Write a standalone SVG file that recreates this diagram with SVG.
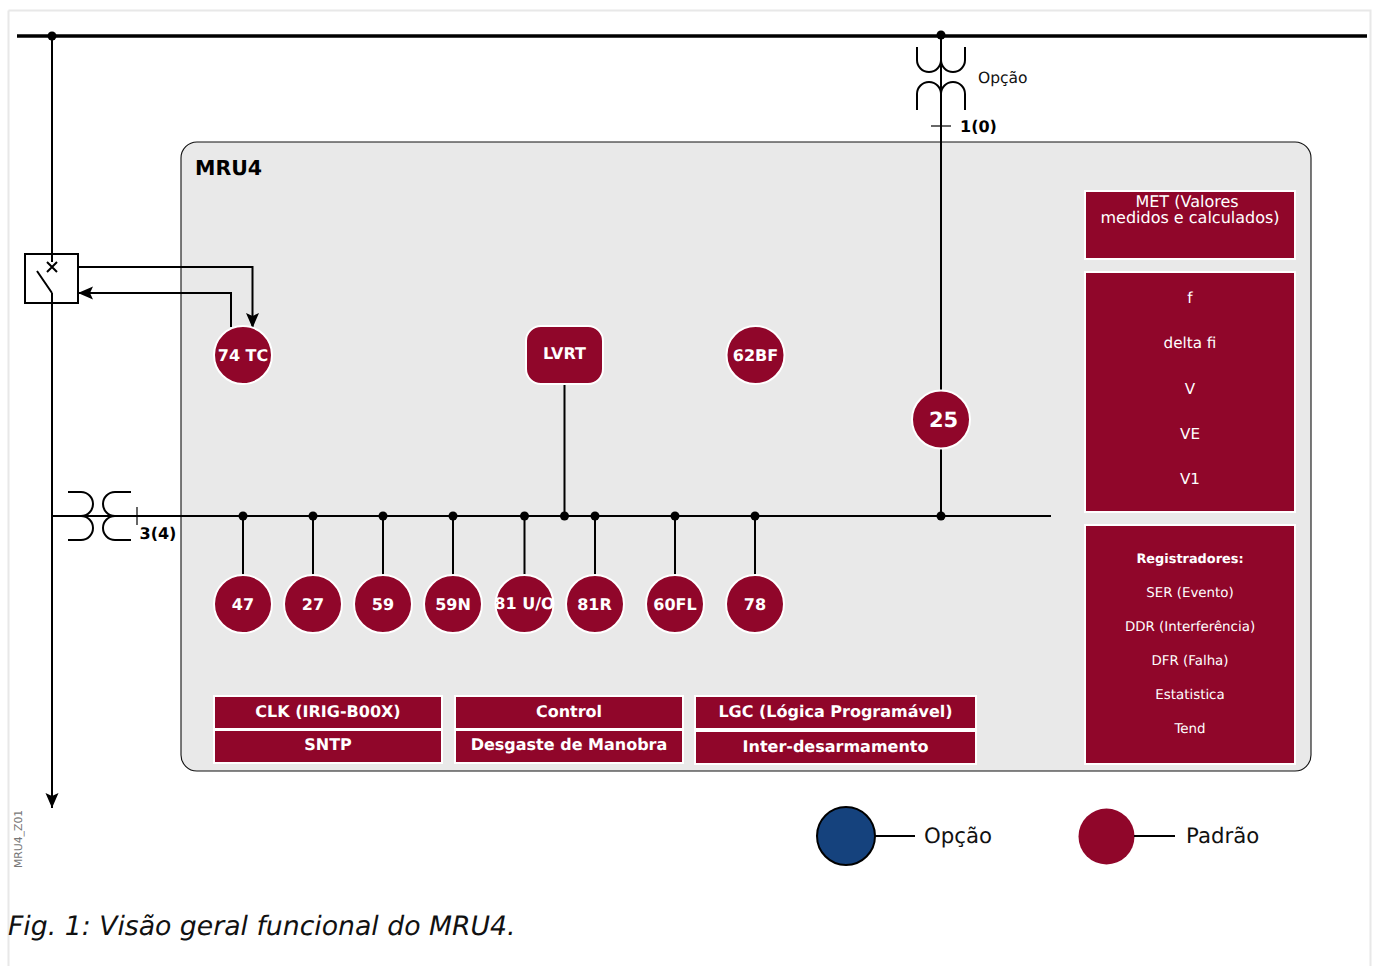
<svg xmlns="http://www.w3.org/2000/svg" width="1375" height="966" viewBox="0 0 1375 966">
<style>
text{font-family:"DejaVu Sans",sans-serif;text-rendering:geometricPrecision}
.w{fill:#fff;text-anchor:middle}
.b{font-weight:bold;font-size:12.900px}
.r{fill:#90062a;stroke:#fff;stroke-width:2}
.c{fill:#90062a;stroke:#fff;stroke-width:2}
.l{fill:none;stroke:#000;stroke-width:2}
.t{font-size:16px;font-weight:bold}
.k{font-size:16px;font-weight:bold}
.s{font-size:15.200px}
.m{font-size:13.400px}
</style>
<defs>
<marker id="a" markerUnits="userSpaceOnUse" markerWidth="16" markerHeight="14" refX="15" refY="6.500" orient="auto"><path d="M0 0L15 6.500L0 13L3 6.500Z" fill="#000"/></marker>
</defs>
<rect width="1375" height="966" fill="#fff"/>
<path d="M8.500 10.500H1370.500V966M8.500 10.500V966" fill="none" stroke="#e8e8e8" stroke-width="2"/>
<rect id="mru4" x="181" y="142" width="1130" height="629" rx="16" fill="#e9e9e9" stroke="#111" stroke-width="1.100"/>
<text x="195" y="174.500" font-size="20.500" font-weight="bold">MRU4</text>
<g id="connectors">
<path d="M17 36H1367" fill="none" stroke="#000" stroke-width="3.500"/>
<path class="l" d="M52 36V254M52 303V808" marker-end="url(#a)"/>
<path class="l" d="M941 36V390M941 448V516"/>
<path class="l" d="M52 516H1051"/>
<path class="l" d="M243 516V576M313 516V576M383 516V576M453 516V576M524.500 516V576M595 516V576M675 516V576M755 516V576M564.500 384V516"/>
<path class="l" d="M78 267H252.500V328" marker-end="url(#a)"/>
<path class="l" d="M231 327V293H78" marker-end="url(#a)"/>
<g fill="#000">
<circle cx="52" cy="36" r="4.500"/><circle cx="941" cy="35" r="4.500"/>
<circle cx="243" cy="516" r="4.500"/><circle cx="313" cy="516" r="4.500"/><circle cx="383" cy="516" r="4.500"/><circle cx="453" cy="516" r="4.500"/><circle cx="524.500" cy="516" r="4.500"/><circle cx="564.500" cy="516" r="4.500"/><circle cx="595" cy="516" r="4.500"/><circle cx="675" cy="516" r="4.500"/><circle cx="755" cy="516" r="4.500"/><circle cx="941" cy="516" r="4.500"/>
</g>
</g>
<g id="breaker">
<rect x="25" y="254" width="53" height="49" fill="#fff" stroke="#000" stroke-width="2"/>
<path class="l" d="M52 208V262M52 293V303M37 271L52 293M47 262L57 272M57 262L47 272"/>
</g>
<g id="vt-top">
<path class="l" d="M917 47V60A12 12 0 0 0 941 60A12 12 0 0 0 965 60V47"/>
<path class="l" d="M917 110V94A12 12 0 0 1 941 94A12 12 0 0 1 965 94V110"/>
<path fill="none" stroke="#000" stroke-width="1.200" d="M931 126H951"/>
<text x="978" y="83" font-size="15.500" fill="#111">Opção</text>
<text x="960" y="132" font-size="16" font-weight="bold" fill="#000">1(0)</text>
</g>
<g id="vt-left">
<path class="l" d="M68 492H81A12 12 0 0 1 81 516A12 12 0 0 1 81 540H68"/>
<path class="l" d="M131 492H115A12 12 0 0 0 115 516A12 12 0 0 0 115 540H131"/>
<path fill="none" stroke="#000" stroke-width="1.200" d="M137 507V525"/>
<text x="139.500" y="539" font-size="16" font-weight="bold">3(4)</text>
</g>
<g id="n74"><circle class="c" cx="243" cy="355" r="29"/><text class="w t" x="243" y="361">74 TC</text></g>
<g id="lvrt"><rect class="r" x="526" y="326" width="77" height="58" rx="15"/><text class="w k" x="564.500" y="359">LVRT</text></g>
<g id="n62"><circle class="c" cx="755.500" cy="355" r="29"/><text class="w t" x="755.500" y="361">62BF</text></g>
<g id="n25"><circle class="c" cx="941" cy="419.500" r="29"/><text class="w" x="943.500" y="427" font-size="21" font-weight="bold">25</text></g>
<g id="n47"><circle class="c" cx="243" cy="604" r="29"/><text class="w t" x="243" y="610">47</text></g>
<g id="n27"><circle class="c" cx="313" cy="604" r="29"/><text class="w t" x="313" y="610">27</text></g>
<g id="n59"><circle class="c" cx="383" cy="604" r="29"/><text class="w t" x="383" y="610">59</text></g>
<g id="n59N"><circle class="c" cx="453" cy="604" r="29"/><text class="w t" x="453" y="610">59N</text></g>
<g id="n81"><circle class="c" cx="524.500" cy="604" r="29"/><text class="w t" x="524.500" y="609">81 U/O</text></g>
<g id="n81R"><circle class="c" cx="595" cy="604" r="29"/><text class="w t" x="594.500" y="610">81R</text></g>
<g id="n60"><circle class="c" cx="675" cy="604" r="29"/><text class="w t" x="675" y="610">60FL</text></g>
<g id="n78"><circle class="c" cx="755" cy="604" r="29"/><text class="w t" x="755" y="610">78</text></g>
<g id="clk"><rect class="r" x="214" y="696" width="228" height="33"/><text class="w k" x="328" y="717">CLK (IRIG-B00X)</text></g>
<g id="sntp"><rect class="r" x="214" y="730" width="228" height="33"/><text class="w k" x="328" y="750">SNTP</text></g>
<g id="control"><rect class="r" x="455" y="696" width="228" height="33"/><text class="w k" x="569" y="717">Control</text></g>
<g id="desgaste"><rect class="r" x="455" y="730" width="228" height="33"/><text class="w k" x="569" y="750">Desgaste de Manobra</text></g>
<g id="lgc"><rect class="r" x="695" y="696" width="281" height="33"/><text class="w k" x="835.500" y="717">LGC (Lógica Programável)</text></g>
<g id="inter"><rect class="r" x="695" y="731" width="281" height="33"/><text class="w k" x="835.500" y="752">Inter-desarmamento</text></g>
<g id="met"><rect class="r" x="1085" y="191" width="210" height="68"/><text class="w" font-size="16" x="1187" y="207">MET (Valores</text><text class="w" font-size="16" x="1190" y="223">medidos e calculados)</text></g>
<g id="meas"><rect class="r" x="1085" y="272" width="210" height="240"/>
<text class="w s" x="1190" y="302.500">f</text><text class="w s" x="1190" y="348">delta fi</text><text class="w s" x="1190" y="394">V</text><text class="w s" x="1190" y="439">VE</text><text class="w s" x="1190" y="484">V1</text></g>
<g id="reg"><rect class="r" x="1085" y="525" width="210" height="239"/>
<text class="w b" x="1190" y="563">Registradores:</text><text class="w m" x="1190" y="597">SER (Evento)</text><text class="w m" x="1190" y="631">DDR (Interferência)</text><text class="w m" x="1190" y="665">DFR (Falha)</text><text class="w m" x="1190" y="699">Estatistica</text><text class="w m" x="1190" y="733">Tend</text></g>
<g id="legend-opcao"><circle cx="846" cy="836" r="29" fill="#15427d" stroke="#000" stroke-width="2"/><path class="l" d="M875 836H915"/><text x="924" y="842.500" font-size="21.300" fill="#111">Opção</text></g>
<g id="legend-padrao"><circle cx="1106.500" cy="836.500" r="28" fill="#90062a"/><path class="l" d="M1134 836H1175"/><text x="1186" y="842.500" font-size="21.300" fill="#111">Padrão</text></g>
<text transform="translate(22 868) rotate(-90)" font-size="10.800" fill="#777">MRU4_Z01</text>
<text x="8" y="935" font-size="26.700" font-style="italic" fill="#111">Fig. 1: Visão geral funcional do MRU4.</text>
</svg>
